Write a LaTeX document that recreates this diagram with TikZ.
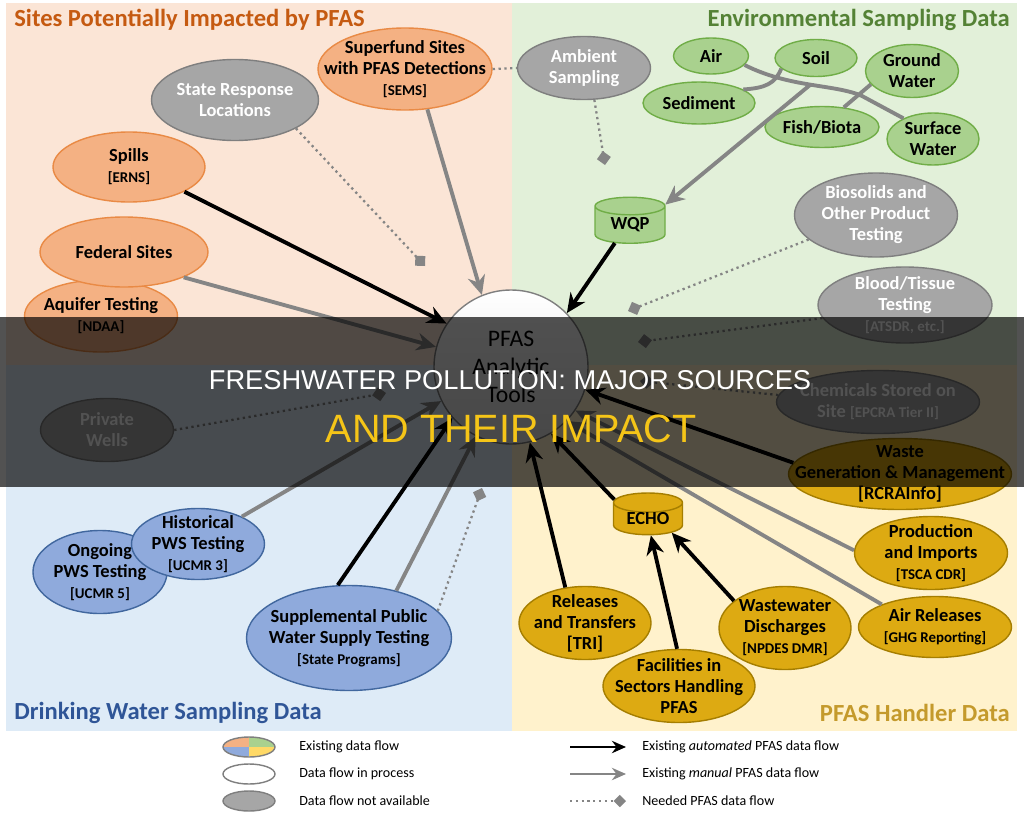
\documentclass[tikz,border=0pt]{standalone}
\usepackage{fontspec}
\setmainfont{Carlito}
\newfontfamily\bandfont{Liberation Sans}
\usetikzlibrary{shapes.geometric,arrows.meta}

\definecolor{peachbg}{HTML}{FBE5D6}
\definecolor{greenbg}{HTML}{E2F0D9}
\definecolor{bluebg}{HTML}{DEEBF7}
\definecolor{yellowbg}{HTML}{FFF2CC}
\definecolor{orfill}{HTML}{F4B183}
\definecolor{ordraw}{HTML}{E98A45}
\definecolor{grfill}{HTML}{A9D18E}
\definecolor{grdraw}{HTML}{70AD47}
\definecolor{blfill}{HTML}{8FAADC}
\definecolor{bldraw}{HTML}{41679E}
\definecolor{gofill}{HTML}{DDAA12}
\definecolor{godraw}{HTML}{A57E00}
\definecolor{legyellow}{HTML}{FFD966}
\definecolor{gyfill}{HTML}{A6A6A6}
\definecolor{gydraw}{HTML}{7F7F7F}
\definecolor{flowgray}{HTML}{858585}
\definecolor{ortitle}{HTML}{C55A11}
\definecolor{grtitle}{HTML}{548235}
\definecolor{bltitle}{HTML}{2F5597}
\definecolor{gotitle}{HTML}{C49A2C}
\definecolor{bandyellow}{HTML}{F5C518}

\newcommand{\smalltag}{\fontsize{8.5}{10}\selectfont}

\tikzset{
  blob/.style={ellipse, draw, line width=0.8pt, inner sep=0pt},
  sz/.style 2 args={minimum width=#1*0.02cm, minimum height=#2*0.02cm},
  orblob/.style={blob, fill=orfill, draw=ordraw},
  grblob/.style={blob, fill=grfill, draw=grdraw},
  blblob/.style={blob, fill=blfill, draw=bldraw},
  goblob/.style={blob, fill=gofill, draw=godraw},
  gyblob/.style={blob, fill=gyfill, draw=gydraw},
  db/.style={cylinder, shape border rotate=90, aspect=0.45, draw, line width=0.8pt, inner sep=0pt,
    font=\bfseries\fontsize{10.5}{12}\selectfont},
  lbl/.style={font=\bfseries\fontsize{10.5}{12}\selectfont, align=center, inner sep=0pt},
  say/.style={label={[lbl]center:#1}},
  saywhite/.style={label={[lbl,text=white]center:#1}},
  autoflow/.style={draw=black, line width=2.2pt, -{Stealth[length=11pt,width=10pt]}},
  manualflow/.style={draw=flowgray, line width=2.2pt, -{Stealth[length=11pt,width=10pt]}},
  neededflow/.style={draw=flowgray, line width=1.3pt, dash pattern=on 1.3pt off 2pt,
    -{Diamond[length=8pt,width=8pt]}},
  treeline/.style={draw=flowgray, line width=2.2pt},
  sectitle/.style={font=\bfseries\fontsize{14}{16}\selectfont, inner sep=0pt},
  legtext/.style={font=\fontsize{8}{10}\selectfont, anchor=west, inner sep=0pt}
}

\begin{document}
\begin{tikzpicture}[x=0.02cm, y=-0.02cm]
\useasboundingbox (0,0) rectangle (1024,818);
\fill[white] (0,0) rectangle (1024,818);
% quadrants
\fill[peachbg] (6,3) rectangle (512,365);
\fill[greenbg] (512,3) rectangle (1017,365);
\fill[bluebg] (6,365) rectangle (512,731);
\fill[yellowbg] (512,365) rectangle (1017,731);

\node[sectitle, text=ortitle, anchor=west] (sitesT) at (14,20) {Sites Potentially Impacted by PFAS};
\node[sectitle, text=grtitle, anchor=east] (envT) at (1010,20) {Environmental Sampling Data};
\node[sectitle, text=bltitle, anchor=west] (drinkT) at (14,713) {Drinking Water Sampling Data};
\node[sectitle, text=gotitle, anchor=east] (handlerT) at (1010,713) {PFAS Handler Data};

% sites potentially impacted
\node[orblob, sz={174}{82}, say={Superfund Sites\\with PFAS Detections\\{\smalltag [SEMS]}}] (super) at (405,69) {};
\node[gyblob, sz={167}{81}, saywhite={State Response\\Locations}] (state) at (235,100) {};
\node[orblob, sz={152}{70}, say={Spills\\{\smalltag [ERNS]}}] (spills) at (129,167) {};
\node[orblob, sz={153}{72}, say={Aquifer Testing\\{\smalltag [NDAA]}}] (aquifer) at (101,316) {};
\node[orblob, sz={168}{70}, say={Federal Sites}] (federal) at (124,252) {};
\node[gyblob, sz={133}{63}, saywhite={Private\\Wells}] (priv) at (107,430) {};

% environmental sampling
\node[gyblob, sz={133}{63}, saywhite={Ambient\\Sampling}] (amb) at (584,68) {};
\node[grblob, sz={75}{36}, say={Air}] (air) at (711,56) {};
\node[grblob, sz={82}{37}, say={Soil}] (soil) at (816,58) {};
\node[grblob, sz={93}{53}, say={Ground\\Water}] (ground) at (912,71) {};
\node[grblob, sz={112}{42}, say={Sediment}] (sed) at (699,103) {};
\node[grblob, sz={114}{41}, say={Fish/Biota}] (fish) at (822,127) {};
\node[grblob, sz={92}{52}, say={Surface\\Water}] (surf) at (933,139) {};
\node[db, fill=grfill, draw=grdraw, minimum width=70*0.02cm, minimum height=46*0.02cm] (wqp) at (630,225) {WQP};
\node[gyblob, sz={163}{84}, saywhite={Biosolids and\\Other Product\\Testing}] (bio) at (876,215) {};
\node[gyblob, sz={174}{76}, saywhite={Blood/Tissue\\Testing\\{\smalltag [ATSDR, etc.]}}] (blood) at (905,305) {};

% handler data
\node[gyblob, sz={203}{63}, saywhite={Chemicals Stored on\\Site {\smalltag [EPCRA Tier II]}}] (chem) at (878,402) {};
\node[goblob, sz={223}{71}, say={Waste\\Generation \& Management\\{[RCRAInfo]}}] (waste) at (900,474) {};
\node[db, fill=gofill, draw=godraw, minimum width=69*0.02cm, minimum height=38*0.02cm] (echo) at (648,519) {ECHO};
\node[goblob, sz={153}{73}, say={Production\\and Imports\\{\smalltag [TSCA CDR]}}] (prod) at (931,553) {};
\node[goblob, sz={132}{73}, say={Releases\\and Transfers\\{[TRI]}}] (rel) at (585,623) {};
\node[goblob, sz={152}{73}, say={Facilities in\\Sectors Handling\\PFAS}] (fac) at (679,686) {};
\node[goblob, sz={132}{83}, say={Wastewater\\Discharges\\{\smalltag [NPDES DMR]}}] (ww) at (785,628) {};
\node[goblob, sz={153}{61}, say={Air Releases\\{\smalltag [GHG Reporting]}}] (airrel) at (935,627) {};

% drinking water
\node[blblob, sz={134}{83}, say={Ongoing\\PWS Testing\\{\smalltag [UCMR 5]}}] (ongoing) at (100,572) {};
\node[blblob, sz={133}{71}, say={Historical\\PWS Testing\\{\smalltag [UCMR 3]}}] (hist) at (198,544) {};
\node[blblob, sz={205}{105}, say={Supplemental Public\\Water Supply Testing\\{\smalltag [State Programs]}}] (supp) at (349,638) {};

\node[circle, draw=gydraw, line width=0.8pt, minimum size=154*0.02cm, top color=white, bottom color=black!12,
  font=\fontsize{13.5}{16}\selectfont, align=center] (tools) at (511,367) {PFAS\\Analytic\\Tools};

% diamond ends
\coordinate (dstate) at (425,266);
\coordinate (damb) at (605,165);
\coordinate (dbio) at (628,311);
\coordinate (dblood) at (638,342);
\coordinate (dchem) at (640,381);
\coordinate (dpriv) at (386,393);
\coordinate (dsupp) at (482,488);
\coordinate (treejoin) at (810,85);

\draw[autoflow] (spills.-24) -- (tools.146);
\draw[manualflow] (super.-61) -- (tools.112);
\draw[manualflow] (federal.-23) -- (tools.165);
\draw[neededflow] (state.-25) -- (dstate);
\draw[neededflow, -] (super.east) -- (amb.west);
\draw[neededflow] (amb.-72) -- (damb);
\draw[treeline] (air.-15) .. controls (790,88) and (835,84) .. (862,96) -- (surf.145);
\draw[treeline] (soil.197) .. controls (775,84) and (765,88) .. (sed.17);
\draw[treeline] (ground.198) -- (fish.42);
\draw[manualflow] (treejoin) -- (wqp.30);
\draw[autoflow] (wqp.-130) -- (tools.44);
\draw[neededflow] (bio.200) -- (dbio);
\draw[neededflow] (blood.189) -- (dblood);
\draw[neededflow] (chem.176) -- (dchem);
\draw[neededflow] (priv.east) -- (dpriv);
\draw[autoflow] (waste.174) -- (tools.-17);
\draw[manualflow] (prod.178) -- (tools.-34);
\draw[manualflow] (airrel.157) -- (tools.-44);
\draw[autoflow] (echo.150) -- (tools.-59);
\draw[autoflow] (rel.119) -- (tools.-76);
\draw[autoflow] (fac.93) -- (echo.-80);
\draw[autoflow] (ww.152) -- (echo.-30);
\draw[manualflow] (hist.32) -- (tools.-154);
\draw[autoflow] (supp.102) -- (tools.-139);
\draw[manualflow] (supp.45) -- (tools.-117);
\draw[neededflow] (supp.17) -- (dsupp);

% legend
\node[blob, draw=gydraw, sz={52}{20}, path picture={
  \fill[orfill] (path picture bounding box.center) rectangle (path picture bounding box.north west);
  \fill[grfill] (path picture bounding box.center) rectangle (path picture bounding box.north east);
  \fill[blfill] (path picture bounding box.center) rectangle (path picture bounding box.south west);
  \fill[legyellow] (path picture bounding box.center) rectangle (path picture bounding box.south east);
}] (legexist) at (249,747) {};
\node[blob, draw=gydraw, fill=white, sz={52}{20}] (legprocess) at (249,774) {};
\node[blob, draw=gydraw, fill=gyfill, sz={52}{20}] (legnone) at (249,801) {};
\node[legtext] (legexistT) at (299,747) {Existing data flow};
\node[legtext] (legprocessT) at (299,774) {Data flow in process};
\node[legtext] (legnoneT) at (299,801) {Data flow not available};
\coordinate (la1) at (570,747); \coordinate (la2) at (626,747);
\coordinate (lm1) at (570,774); \coordinate (lm2) at (626,774);
\coordinate (ln1) at (570,801); \coordinate (ln2) at (626,801);
\draw[autoflow, line width=1.6pt, -{Stealth[length=8pt,width=7pt]}] (la1) -- (la2);
\draw[manualflow, line width=1.6pt, -{Stealth[length=8pt,width=7pt]}] (lm1) -- (lm2);
\draw[neededflow, line width=1pt, -{Diamond[length=7pt,width=7pt]}] (ln1) -- (ln2);
\node[legtext] (legautoT) at (642,747) {Existing \textit{automated} PFAS data flow};
\node[legtext] (legmanualT) at (642,774) {Existing \textit{manual} PFAS data flow};
\node[legtext] (legneededT) at (642,801) {Needed PFAS data flow};

% title band
\fill[black, fill opacity=0.68] (0,317) rectangle (1024,487);
\node[font=\bandfont\fontsize{15.5}{18}\selectfont, text=white, anchor=base, inner sep=0pt] (bandtop) at (510,389) {FRESHWATER POLLUTION: MAJOR SOURCES};
\node[font=\bandfont\fontsize{22.5}{27}\selectfont, text=bandyellow, anchor=base, inner sep=0pt] (bandbot) at (511,442) {AND THEIR IMPACT};
\end{tikzpicture}
\end{document}
